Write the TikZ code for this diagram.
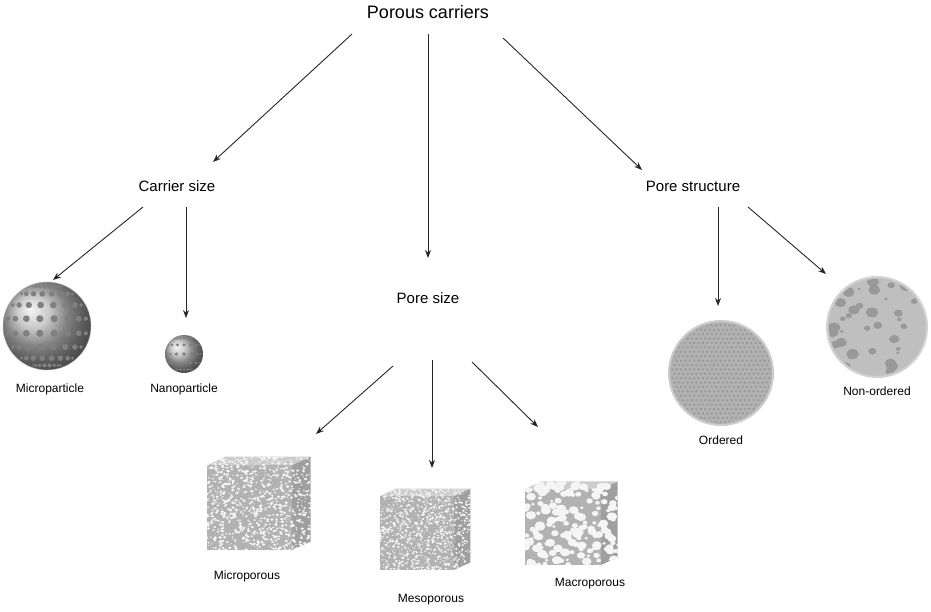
\documentclass[tikz,border=0pt]{standalone}
\usepackage{fontspec}
\setmainfont{Liberation Sans}
\usetikzlibrary{positioning,arrows.meta}
\tikzset{
  arr/.style={-{Stealth[length=8pt,width=6pt]}, line width=0.9pt, black!85},
  lbl/.style={font=\fontsize{12}{14}\selectfont, inner sep=1pt},
  mid/.style={font=\fontsize{15}{17}\selectfont, inner sep=1pt},
  head/.style={font=\fontsize{18}{20}\selectfont, inner sep=1pt},
}
% textured cube: front lower-left corner (#1,#2), size #3, hole size #4, count #5
\newcommand{\porecube}[5]{
  \begin{scope}[shift={(#1,#2)}]
    \fill[gray!60] (0,0) rectangle (#3,-#3);
    \fill[gray!75] (#3,0) -- (#3,-#3) -- ++(0.22*#3,-0.1*#3) -- ++(0,#3) -- cycle;
    \fill[gray!40] (0,-#3) -- ++(0.22*#3,-0.1*#3) -- ++(#3,0) -- (#3,-#3) -- cycle;
    \begin{scope}
      \clip (0,0) -- (0,-#3) -- ++(0.22*#3,-0.1*#3) -- ++(#3,0) -- ++(0,#3) -- (#3,0) -- cycle;
      \foreach \i in {1,...,#5}{
        \pgfmathsetmacro{\px}{rnd*1.22*#3}
        \pgfmathsetmacro{\py}{-rnd*1.1*#3}
        \pgfmathsetmacro{\pr}{(0.5+rnd)*#4}
        \fill[white!92!gray] (\px,\py) ellipse ({\pr} and {0.8*\pr});
      }
    \end{scope}
  \end{scope}
}
\begin{document}
\begin{tikzpicture}[x=1pt,y=-1pt]
  \useasboundingbox (0,0) rectangle (931,612);
  \pgfmathsetseed{7}

  % text nodes
  \node[head] (porous) at (428,12) {Porous carriers};
  \node[mid] (carrier) at (177,186) {Carrier size};
  \node[mid] (structure) at (693,186) {Pore structure};
  \node[mid] (poresize) at (428,298) {Pore size};

  % microparticle
  \node[circle, minimum size=88, inner sep=0, shading=ball, ball color=gray!55, draw=gray!60] (micro) at (47,326) {};
  \foreach \la in {-70,-50,...,70}
    \foreach \lo in {-80,-60,...,80}{
      \pgfmathsetmacro{\cx}{47+42*cos(\la)*sin(\lo+10)}
      \pgfmathsetmacro{\cy}{326-42*sin(\la)}
      \pgfmathsetmacro{\dr}{3.6*sqrt(abs(cos(\la)*cos(\lo+10)))}
      \fill[gray] (\cx,\cy) circle (\dr);
    }
  \node[circle, minimum size=38, inner sep=0, shading=ball, ball color=gray!55] (nano) at (184,354) {};
  \foreach \la in {-60,-30,...,60}
    \foreach \lo in {-75,-50,...,75}{
      \pgfmathsetmacro{\cx}{184+18*cos(\la)*sin(\lo)}
      \pgfmathsetmacro{\cy}{354-18*sin(\la)}
      \pgfmathsetmacro{\dr}{1.8*sqrt(abs(cos(\la)*cos(\lo)))}
      \fill[gray] (\cx,\cy) circle (\dr);
    }
  \node[lbl] (microlbl) at (50,389) {Microparticle};
  \node[lbl] (nanolbl) at (184,389) {Nanoparticle};

  % ordered
  \node[circle, minimum size=104, inner sep=0, fill=gray!60, draw=gray!40, line width=2pt] (ordered) at (721,373) {};
  \begin{scope}
    \clip (721,373) circle (50);
    \foreach \r in {0,...,24}
      \foreach \c in {0,...,26}{
        \pgfmathsetmacro{\cx}{670+\c*4.4+mod(\r,2)*2.2}
        \fill[gray!80] (\cx,321+\r*4.4) circle (1.3);
      }
  \end{scope}
  \node[lbl] (orderedlbl) at (721,440) {Ordered};

  % non-ordered
  \node[circle, minimum size=100, inner sep=0, fill=gray!50, draw=gray!35, line width=2pt] (nonord) at (877,327) {};
  \begin{scope}
    \clip (877,327) circle (48);
    \foreach \i in {1,...,45}{
      \pgfmathsetmacro{\px}{829+rnd*96}
      \pgfmathsetmacro{\py}{279+rnd*96}
      \pgfmathsetmacro{\pr}{1.5+rnd*5}
      \fill[gray!80] (\px,\py) ellipse ({\pr} and {0.8*\pr});
    }
  \end{scope}
  \node[lbl] (nonordlbl) at (877,391) {Non-ordered};

  % cubes
  \porecube{207}{550}{85}{1.2}{900}
  \porecube{380}{570}{74}{1.0}{1000}
  \porecube{525}{565}{76}{3.5}{170}
  \node[lbl] (mplbl) at (247,576) {Microporous};
  \node[lbl] (mslbl) at (431,600) {Mesoporous};
  \node[lbl] (malbl) at (590,584) {Macroporous};

  % connector ends
  \coordinate (p1) at (352,34); \coordinate (q1) at (213,162);
  \coordinate (p2) at (428,34); \coordinate (q2) at (428,258);
  \coordinate (p3) at (503,38); \coordinate (q3) at (642,170);
  \coordinate (p4) at (143,207); \coordinate (q4) at (53,280);
  \coordinate (p5) at (186,207); \coordinate (q5) at (186,318);
  \coordinate (p6) at (718,207); \coordinate (q6) at (718,306);
  \coordinate (p7) at (748,207); \coordinate (q7) at (826,274);
  \coordinate (p8) at (393,366); \coordinate (q8) at (316,434);
  \coordinate (p9) at (432,360); \coordinate (q9) at (432,468);
  \coordinate (p10) at (472,362); \coordinate (q10) at (538,427);
  \foreach \k in {1,...,10}
    \draw[arr] (p\k) -- (q\k);
\end{tikzpicture}
\end{document}
